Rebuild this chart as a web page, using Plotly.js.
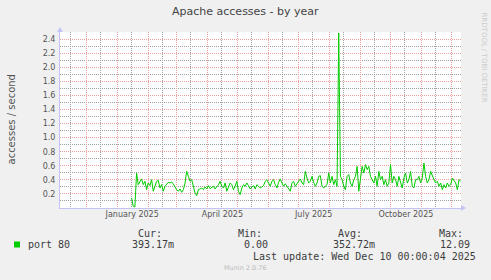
<!DOCTYPE html>
<html><head><meta charset="utf-8">
<script src="https://cdn.plot.ly/plotly-3.0.1.min.js"></script>
<style>html,body{margin:0;padding:0;background:#F0F0F0;} #chart{width:491px;height:280px;}</style>
</head><body><div id="chart"></div>
<script>
// ---- data ----
const firstSample = '2025-01-15T09:00:00';
const stepHours = 40;
const accesses = [
0.143,0.025,0.015,0.498,0.332,0.38,0.413,0.332,0.38,0.261,
0.356,0.318,0.403,0.238,0.309,0.38,0.394,0.285,0.332,0.238,
0.309,0.342,0.365,0.356,0.37,0.342,0.299,0.261,0.238,0.271,
0.223,0.261,0.356,0.52,0.45,0.38,0.403,0.318,0.214,0.176,
0.261,0.271,0.285,0.261,0.299,0.271,0.318,0.275,0.294,0.309,
0.271,0.299,0.332,0.38,0.309,0.285,0.356,0.238,0.299,0.356,
0.332,0.261,0.309,0.38,0.238,0.19,0.285,0.332,0.309,0.356,
0.318,0.271,0.299,0.318,0.271,0.332,0.309,0.285,0.299,0.318,
0.38,0.403,0.356,0.309,0.38,0.403,0.332,0.285,0.365,0.413,
0.356,0.309,0.346,0.309,0.261,0.238,0.356,0.38,0.309,0.356,
0.38,0.413,0.356,0.332,0.52,0.427,0.356,0.38,0.45,0.365,
0.309,0.356,0.45,
0.46,0.309,0.285,0.309,0.332,0.498,0.356,0.45,0.332,0.403,
0.309,2.485,0.45,0.403,0.309,0.261,0.45,0.474,0.356,0.309,
0.403,0.45,0.592,0.238,0.45,0.592,0.498,0.616,0.545,0.592,
0.45,0.403,0.356,0.45,0.309,0.521,0.403,0.45,0.332,0.403,
0.309,0.356,0.616,0.356,0.45,0.403,0.309,0.45,0.38,0.285,
0.427,0.498,0.356,0.403,0.521,0.309,0.285,0.403,0.403,0.45,
0.356,0.427,0.64,0.45,0.356,0.403,0.521,0.45,0.403,0.356,
0.38,0.309,0.356,0.261,0.332,0.285,0.356,0.309,0.332,0.427,
0.38,0.356,0.261,0.403,0.38
];
const xRange = ['2024-11-05', '2025-12-10'];
const yRange = [0.0005, 2.5];
const monthGridStart = '2024-12-01';
const midMonthGridStart = '2024-11-15';
const labelDates = ['2025-01-16','2025-04-16','2025-07-16','2025-10-16'];
const labelTexts = ['January 2025','April 2025','July 2025','October 2025'];
const yMajorStep = 0.2;
const yMinorStep = 0.1;
const seriesName = 'port 80';
const statHeads = ['Cur:','Min:','Avg:','Max:'];
const statValues = ['393.17m','0.00','352.72m','12.09'];
const lastUpdate = 'Last update: Wed Dec 10 00:00:04 2025';

// ---- build ----
const t0 = Date.parse(firstSample + 'Z');
const dates = accesses.map((v, i) => new Date(t0 + i * stepHours * 3600e3).toISOString().slice(0, 19).replace('T', ' '));

const L = 60, R = 30, T = 32, B = 72, W = 491 - L - R, H = 280 - T - B;
const px = x => (x - L) / W;
const py = y => (T + H - y) / H;

const GREEN = '#00CC00';
const MGRID = '#F0A0A0';
const GRID = '#A0A0A0';
const AXIS = '#C4C4F4';
const DOT = '1px,1px';
const MONO = 'DejaVu Sans Mono';
const SANS = 'DejaVu Sans';
const TXT = '#3C3C3C';

const traces = [
  {x: dates, y: accesses, type: 'scatter', mode: 'lines', line: {color: GREEN, width: 1}, hoverinfo: 'skip', showlegend: false},
  {x: [], y: [], xaxis: 'x2', yaxis: 'y', type: 'scatter', mode: 'lines', showlegend: false, hoverinfo: 'skip'}
];

const ann = [];
function txt(x, y, text, opts) {
  ann.push(Object.assign({xref: 'paper', yref: 'paper', x: px(x), y: py(y), text: text, showarrow: false, borderpad: 0,
    xanchor: 'center', yanchor: 'middle', font: {family: SANS, size: 10, color: TXT}}, opts || {}));
}
txt(245, 11.5, 'Apache accesses - by year', {font: {family: SANS, size: 11, color: '#444'}});
txt(10.5, 120, 'accesses / second', {textangle: -90, font: {family: SANS, size: 10, color: '#555'}});
txt(483.5, 58, 'RRDTOOL / TOBI OETIKER', {textangle: 90, font: {family: SANS, size: 7, color: '#CCCCCC'}});
const headRight = [163.3, 263.3, 363.3, 464.3];
const valRight = [175, 269.3, 376, 470.7];
statHeads.forEach((h, i) => txt(headRight[i], 233, h, {xanchor: 'right', font: {family: MONO, size: 10, color: TXT}}));
statValues.forEach((v, i) => txt(valRight[i], 244.5, v, {xanchor: 'right', font: {family: MONO, size: 10, color: TXT}}));
txt(26.5, 244.5, seriesName, {xanchor: 'left', font: {family: MONO, size: 10, color: TXT}});
txt(476.7, 256, lastUpdate, {xanchor: 'right', font: {family: MONO, size: 10, color: TXT}});
txt(245, 268.3, 'Munin 2.0.76', {font: {family: SANS, size: 6.5, color: '#BBBBBB'}});

const shapes = [
  {type: 'rect', xref: 'paper', yref: 'paper', x0: px(14), x1: px(20), y0: py(247.5), y1: py(241.5), fillcolor: GREEN, line: {width: 0}},
  {type: 'path', xref: 'paper', yref: 'paper', xsizemode: 'pixel', ysizemode: 'pixel', xanchor: 0, yanchor: 1,
   path: 'M -3 0 L 3 0 L 0 5 Z', fillcolor: AXIS, line: {width: 0}},
  {type: 'path', xref: 'paper', yref: 'paper', xsizemode: 'pixel', ysizemode: 'pixel', xanchor: 1, yanchor: 0,
   path: 'M 0 -3 L 0 3 L 5 0 Z', fillcolor: AXIS, line: {width: 0}}
];

const layout = {
  width: 491, height: 280,
  margin: {l: L, r: R, t: T, b: B, pad: 0},
  paper_bgcolor: '#F0F0F0', plot_bgcolor: '#FFFFFF',
  showlegend: false,
  xaxis: {type: 'date', range: xRange, tickmode: 'linear', tick0: monthGridStart, dtick: 'M1',
    showticklabels: false, showgrid: true, gridcolor: MGRID, griddash: DOT, gridwidth: 1,
    zeroline: false, showline: true, linecolor: AXIS, linewidth: 1, ticks: '', fixedrange: true,
    minor: {tickmode: 'linear', tick0: midMonthGridStart, dtick: 'M1', showgrid: true, gridcolor: GRID, griddash: DOT, gridwidth: 1, ticks: ''}},
  xaxis2: {type: 'date', range: xRange, overlaying: 'x', anchor: 'y', side: 'bottom', tickmode: 'array', tickvals: labelDates, ticktext: labelTexts,
    showgrid: false, zeroline: false, showline: false, ticks: '', tickfont: {family: SANS, size: 8, color: '#555'}, fixedrange: true},
  yaxis: {range: yRange, tickmode: 'linear', tick0: 0, dtick: yMajorStep, tickformat: '.1f',
    showgrid: true, gridcolor: MGRID, griddash: DOT, gridwidth: 1, zeroline: false,
    showline: true, linecolor: AXIS, linewidth: 1, ticks: '', ticklabelstandoff: 2,
    minor: {tickmode: 'linear', tick0: 0, dtick: yMinorStep, showgrid: true, gridcolor: GRID, griddash: DOT, gridwidth: 1, ticks: ''},
    tickfont: {family: SANS, size: 8, color: '#555'}, fixedrange: true},
  annotations: ann,
  shapes: shapes
};

Plotly.newPlot('chart', traces, layout, {staticPlot: true, displayModeBar: false});
</script></body></html>
